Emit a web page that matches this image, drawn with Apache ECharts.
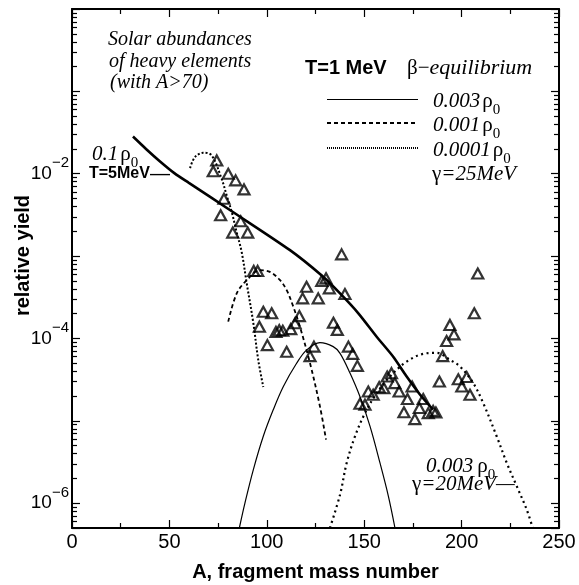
<!DOCTYPE html>
<html><head><meta charset="utf-8">
<script src="https://cdn.jsdelivr.net/npm/echarts@6/dist/echarts.min.js"></script>
<style>html,body{margin:0;padding:0;background:#fff}#c{width:579px;height:585px}</style>
</head><body><div id="c"></div>
<script>
// ---------- data (A, relative yield) ----------
const solarAbundances = [[72.5,1.07e-2],[74.3,1.45e-2],[76.3,3.13e-3],[78.0,4.97e-3],[80.2,1.0e-2],[82.5,1.93e-3],[84.0,8.3e-3],[86.6,2.65e-3],[88.3,6.45e-3],[90.2,1.93e-3],[93.3,6.6e-4],[95.3,6.6e-4],[96.2,1.39e-4],[98.2,2.11e-4],[100.3,8.3e-5],[102.5,2.02e-4],[104.7,1.2e-4],[106.4,1.26e-4],[108.2,1.24e-4],[110.2,6.9e-5],[112.3,1.3e-4],[114.5,1.53e-4],[116.7,1.87e-4],[118.4,3.07e-4],[120.4,4.24e-4],[122.2,6.1e-5],[124.2,7.96e-5],[126.4,3.07e-4],[128.2,5.0e-4],[130.4,5.37e-4],[132.1,4.06e-4],[134.2,1.55e-4],[136.2,1.27e-4],[138.4,1.05e-3],[140.1,3.46e-4],[141.9,7.96e-5],[144.1,6.5e-5],[146.5,4.65e-5],[147.8,1.61e-5],[150.4,1.57e-5],[152.1,2.27e-5],[154.6,2.07e-5],[157.7,2.56e-5],[160.1,2.49e-5],[161.8,3.45e-5],[164.0,3.79e-5],[165.7,2.87e-5],[167.9,2.27e-5],[170.4,1.27e-5],[172.2,1.84e-5],[174.6,2.61e-5],[176.0,1.05e-5],[178.3,1.43e-5],[180.3,1.84e-5],[182.9,1.24e-5],[185.4,1.32e-5],[186.8,1.26e-5],[188.6,3.0e-5],[190.3,6.1e-5],[192.3,9.3e-5],[194.0,1.46e-4],[196.1,1.12e-4],[198.3,3.2e-5],[200.1,2.61e-5],[202.6,3.4e-5],[204.3,2.07e-5],[206.5,2.02e-4],[208.3,6.15e-4]];

const t5Rho01 = [[31.3,2.83e-2],[38.0,2.0e-2],[45.2,1.41e-2],[52.7,1.01e-2],[60.0,7.74e-3],[82.6,3.43e-3],[111.9,1.18e-3],[128.2,5.8e-4],[137.6,3.52e-4],[147.0,2.02e-4],[156.4,1.05e-4],[164.9,6.0e-5],[171.8,3.45e-5],[178.6,2.09e-5],[185.3,1.37e-5]];

const t1Rho0003 = [[85.9,5e-7],[88.8,1.01e-6],[93.1,2.56e-6],[98.2,6.5e-6],[103.3,1.36e-5],[108.5,2.61e-5],[115.3,5.0e-5],[120.5,7.26e-5],[127.3,8.9e-5],[134.1,7.96e-5],[137.6,6.6e-5],[142.7,3.8e-5],[147.8,1.97e-5],[153.0,8.55e-6],[158.1,3.08e-6],[162.4,1.22e-6],[165.8,5e-7]];

const t1Rho0001 = [[80.2,1.6e-4],[84.5,3.5e-4],[89.7,5.1e-4],[96.5,6.75e-4],[101.6,6.44e-4],[106.8,5.1e-4],[110.2,3.86e-4],[113.6,2.43e-4],[117.0,1.39e-4],[122.2,5.0e-5],[127.3,1.49e-5],[130.4,5.9e-6]];

const t1Rho00001 = [[60.6,1.17e-2],[63.1,1.59e-2],[67.4,1.8e-2],[71.7,1.67e-2],[76.8,8.7e-3],[79.4,5.46e-3],[82.0,3.43e-3],[84.5,1.96e-3],[87.1,1.12e-3],[89.7,4.66e-4],[93.1,1.53e-4],[95.6,5.5e-5],[98.2,2.57e-5]];

const t1Rho0003g20 = [[132.4,5e-7],[137.6,1.27e-6],[141.0,3.08e-6],[145.3,6.5e-6],[150.4,1.24e-5],[156.4,2.17e-5],[163.2,3.45e-5],[171.8,5.24e-5],[180.3,6.5e-5],[187.2,6.7e-5],[194.0,5.5e-5],[199.2,4.56e-5],[206.0,2.87e-5],[211.1,1.64e-5],[218.0,6.5e-6],[223.2,3.08e-6],[228.3,1.61e-6],[233.4,8.4e-7],[236.5,5e-7]];

const xRange = [0, 250];
const yRange = [5e-7, 1];
const yLabelExponents = [-2, -4, -6];

// ---------- styling ----------
const SANS = 'Liberation Sans';
const SERIF = 'Liberation Serif';

function yLabel(v) {
  const l = Math.log10(v);
  const e = Math.round(l);
  if (Math.abs(l - e) > 1e-6) return '';
  if (yLabelExponents.indexOf(e) < 0) return '';
  return '{b|10}{s|\u2212' + (-e) + '}';
}

const xAxisBase = {
  type: 'value', min: xRange[0], max: xRange[1], interval: 50,
  axisLine: {show: true, onZero: false, lineStyle: {color: '#000', width: 2}},
  axisTick: {show: true, inside: true, length: 8, lineStyle: {color: '#000', width: 1.2}},
  minorTick: {show: true, splitNumber: 2, length: 5, lineStyle: {color: '#000', width: 1.2}},
  splitLine: {show: false}, minorSplitLine: {show: false}
};
const yAxisBase = {
  type: 'log', logBase: 10, min: yRange[0], max: yRange[1],
  axisLine: {show: true, onZero: false, lineStyle: {color: '#000', width: 2}},
  axisTick: {show: true, inside: true, length: 8, lineStyle: {color: '#000', width: 1.2}},
  minorTick: {show: true, splitNumber: 9, length: 5, lineStyle: {color: '#000', width: 1.2}},
  splitLine: {show: false}, minorSplitLine: {show: false}
};

function lineSeries(name, data, width, dash, smooth) {
  return {
    name: name, type: 'line', data: data, showSymbol: false, symbol: 'none',
    smooth: smooth, xAxisIndex: 0, yAxisIndex: 0,
    lineStyle: {color: '#000', width: width, type: dash},
    z: 3
  };
}

function rhoText(num) {
  return '{i|' + num + '}{r|\u03c1}{sub|0}';
}
const rhoRich = {
  i: {fontFamily: SERIF, fontStyle: 'italic', fontSize: 21, lineHeight: 34, verticalAlign: 'middle', fill: '#000'},
  r: {fontFamily: SERIF, fontSize: 21, lineHeight: 34, verticalAlign: 'middle', fill: '#000', padding: [0,0,0,2]},
  sub: {fontFamily: SERIF, fontSize: 15, lineHeight: 14, verticalAlign: 'bottom', fill: '#000'}
};
const rhoRichWide = Object.assign({}, rhoRich, {
  r: Object.assign({}, rhoRich.r, {padding: [0,0,0,4]})
});
const gammaRich = {
  g: {fontFamily: SERIF, fontSize: 21, fill: '#000'},
  i: {fontFamily: SERIF, fontStyle: 'italic', fontSize: 21, fill: '#000'}
};

function txt(x, y, text, extra) {
  return {
    type: 'text', x: x, y: y, z: 10,
    style: Object.assign({text: text, fill: '#000', align: 'left', verticalAlign: 'middle', textAlign: 'left', textVerticalAlign: 'middle'}, extra || {})
  };
}

const chart = echarts.init(document.getElementById('c'), null, {renderer: 'canvas'});
chart.setOption({
  animation: false,
  backgroundColor: '#fff',
  grid: {left: 72, top: 9, right: 20, bottom: 57, containLabel: false, outerBoundsMode: 'none'},
  xAxis: [
    Object.assign({}, xAxisBase, {
      position: 'bottom',
      name: 'A, fragment mass number', nameLocation: 'middle', nameGap: 34, nameMoveOverlap: false,
      nameTextStyle: {fontFamily: SANS, fontWeight: 'bold', fontSize: 20, color: '#000'},
      axisLabel: {show: true, margin: 4, fontFamily: SANS, fontSize: 20, color: '#000'}
    }),
    Object.assign({}, xAxisBase, {position: 'top', axisLabel: {show: false}})
  ],
  yAxis: [
    Object.assign({}, yAxisBase, {
      position: 'left',
      name: 'relative yield', nameLocation: 'middle', nameGap: 39, nameMoveOverlap: false,
      nameTextStyle: {fontFamily: SANS, fontWeight: 'bold', fontSize: 20, color: '#000', padding: [0, 0, 0, 26]},
      axisLabel: {show: true, margin: 3, formatter: yLabel, color: '#000',
        rich: {
          b: {fontFamily: SANS, fontSize: 19, lineHeight: 36, verticalAlign: 'middle', color: '#000'},
          s: {fontFamily: SANS, fontSize: 15, lineHeight: 12, verticalAlign: 'top', color: '#000'}
        }}
    }),
    Object.assign({}, yAxisBase, {position: 'right', axisLabel: {show: false}})
  ],
  series: [
    lineSeries('0.1\u03c10 T=5MeV', t5Rho01, 2.6, 'solid', 0.25),
    lineSeries('0.003\u03c10', t1Rho0003, 1.2, 'solid', 0.35),
    lineSeries('0.001\u03c10', t1Rho0001, 1.8, [4, 3], 0.35),
    lineSeries('0.0001\u03c10', t1Rho00001, 2, [2, 2], 0.35),
    lineSeries('0.003\u03c10 \u03b3=20MeV', t1Rho0003g20, 2.2, [2, 3.5], 0.35),
    {
      name: 'Solar abundances', type: 'scatter', data: solarAbundances,
      symbol: 'triangle', symbolSize: [11, 10],
      itemStyle: {color: 'rgba(0,0,0,0)', borderColor: '#000', borderWidth: 2.2},
      z: 4
    }
  ],
  graphic: [
    txt(108, 40, 'Solar abundances', {font: 'italic 20px "Liberation Serif"'}),
    txt(109, 62, 'of heavy elements', {font: 'italic 20px "Liberation Serif"'}),
    txt(110, 83, '(with A>70)', {font: 'italic 20px "Liberation Serif"'}),
    txt(305, 68, 'T=1 MeV', {font: 'bold 20px "Liberation Sans"'}),
    txt(407, 68, '{g|\u03b2\u2212}{i|equilibrium}', {rich: {
      g: {fontFamily: SERIF, fontSize: 21, fill: '#000'},
      i: {fontFamily: SERIF, fontStyle: 'italic', fontSize: 22, fill: '#000'}}}),
    {type: 'line', z: 10, shape: {x1: 327, y1: 99.5, x2: 418, y2: 99.5}, style: {stroke: '#000', lineWidth: 1.2}},
    {type: 'line', z: 10, shape: {x1: 327, y1: 123, x2: 418, y2: 123}, style: {stroke: '#000', lineWidth: 1.8, lineDash: [4, 3]}},
    {type: 'line', z: 10, shape: {x1: 327, y1: 148, x2: 418, y2: 148}, style: {stroke: '#000', lineWidth: 1.8, lineDash: [1, 1]}},
    txt(433, 101, rhoText('0.003'), {rich: rhoRich}),
    txt(433, 125, rhoText('0.001'), {rich: rhoRich}),
    txt(433, 150, rhoText('0.0001'), {rich: rhoRich}),
    txt(432, 174, '{g|\u03b3}{i|=25MeV}', {rich: gammaRich}),
    txt(92, 154, rhoText('0.1'), {rich: rhoRich}),
    txt(89, 174, '{t|T=5MeV}{d|\u2014}', {rich: {
      t: {fontFamily: SANS, fontWeight: 'bold', fontSize: 16, fill: '#000'},
      d: {fontFamily: SANS, fontSize: 20, fill: '#000'}}}),
    txt(426, 466, rhoText('0.003'), {rich: rhoRichWide}),
    txt(412, 484, '{g|\u03b3}{i|=20MeV\u2014}', {rich: gammaRich})
  ]
});
</script></body></html>
